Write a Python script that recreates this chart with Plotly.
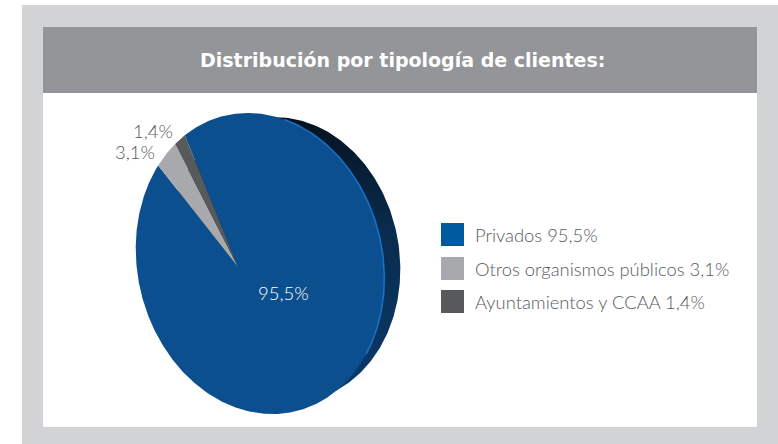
import numpy as np
import plotly.graph_objects as go

categories = ["Privados", "Otros organismos públicos", "Ayuntamientos y CCAA"]
values = [95.5, 3.1, 1.4]
value_labels = ["95,5%", "3,1%", "1,4%"]
colors = ["#0b4f8e", "#a7a9ac", "#58595b"]
legend_colors = ["#005a9f", "#a7a9ac", "#58595b"]
title = "Distribución por tipología de clientes:"
FONT = "Lato"
TEXT = "#58595b"

# pie geometry, page pixels (style only)
C = np.array([260.0, 263.5]); A_, B_ = 152.0, 122.5; PHI = np.radians(13.5)
APEX = np.array([238.0, 267.0])
START = 22.0  # degrees left of vertical where the first small slice ends


def frame(phi):
    return np.array([-np.sin(phi), -np.cos(phi)]), np.array([np.cos(phi), -np.sin(phi)])


def ellipse(c, a, b, phi, t):
    u, v = frame(phi)
    return (c[0] + a*np.cos(t)*u[0] + b*np.sin(t)*v[0],
            c[1] + a*np.cos(t)*u[1] + b*np.sin(t)*v[1])


def wedge(a0, a1):
    """Slice between clockwise angles (deg from vertical) seen from the apex."""
    u, v = frame(PHI)
    th = np.radians(np.linspace(a0, a1, max(3, int(abs(a1-a0)*2))))
    dx, dy = np.sin(th), -np.cos(th)
    p = APEX - C
    pu, pv = (p @ u)/A_, (p @ v)/B_
    du, dv = (dx*u[0]+dy*u[1])/A_, (dx*v[0]+dy*v[1])/B_
    qa = du**2+dv**2; qb = 2*(pu*du+pv*dv); qc = pu**2+pv**2-1
    r = (-qb+np.sqrt(qb**2-4*qa*qc))/(2*qa)
    return ([APEX[0], *(APEX[0]+r*dx), APEX[0]], [APEX[1], *(APEX[1]+r*dy), APEX[1]])


fig = go.Figure()
t = np.linspace(0, 2*np.pi, 361)

# extruded back of the pie
bx, by = ellipse((283.5, 259.5), 143.0, 116.0, np.radians(9.5), t)
fig.add_trace(go.Scatter(x=bx, y=by, mode="lines", fill="toself", line=dict(width=0),
                         fillgradient=dict(type="vertical",
                                           colorscale=[[0, "#0a3a6c"], [0.6, "#0a2c4e"], [1, "#04121f"]]),
                         hoverinfo="skip"))

# slices, angles taken from the values
deg = [v/sum(values)*360 for v in values]
a_dark = (-START-deg[2], -START)
a_grey = (a_dark[0]-deg[1], a_dark[0])
a_blue = (-START, -START+deg[0])
for (a0, a1), col, name in zip([a_blue, a_grey, a_dark], colors, categories):
    x, y = wedge(a0, a1)
    fig.add_trace(go.Scatter(x=x, y=y, mode="lines", fill="toself", fillcolor=col,
                             line=dict(width=0), name=name, hoverinfo="name"))

# bright rim on the right edge
tr = np.radians(np.linspace(28, 138, 110))
rx, ry = ellipse(C, A_, B_, PHI, tr)
fig.add_trace(go.Scatter(x=rx, y=ry, mode="lines", line=dict(color="#1a6fc9", width=1.6), hoverinfo="skip"))

# legend swatches
leg_x = [452.5]*3
leg_y = [234.5, 268.5, 301.5]
fig.add_trace(go.Scatter(x=leg_x, y=leg_y, mode="markers",
                         marker=dict(symbol="square", size=23, color=legend_colors, line=dict(width=0)),
                         hoverinfo="skip"))

ann = [
    dict(x=402.5, y=60, text=f"<b>{title}</b>", font=dict(size=19, color="white", family="DejaVu Sans"), xanchor="center"),
    dict(x=283.5, y=293, text=value_labels[0], font=dict(size=18.5, color="white", family=FONT, weight=300), xanchor="center"),
    dict(x=157, y=152, text=value_labels[1], font=dict(size=18.5, color=TEXT, family=FONT, weight=300), xanchor="right"),
    dict(x=175, y=131, text=value_labels[2], font=dict(size=18.5, color=TEXT, family=FONT, weight=300), xanchor="right"),
]
for c, v, vl, y in zip(categories, values, value_labels, leg_y):
    ann.append(dict(x=473, y=y, text=f"{c} {vl}", font=dict(size=18.4, color=TEXT, family=FONT, weight=300), xanchor="left"))

shapes = [
    dict(type="rect", x0=22, x1=778, y0=5, y1=444, fillcolor="#d1d3d4", line=dict(width=0), layer="below"),
    dict(type="rect", x0=43, x1=757, y0=27, y1=427, fillcolor="#ffffff", line=dict(width=0), layer="below"),
    dict(type="rect", x0=43, x1=757, y0=27, y1=93, fillcolor="#939598", line=dict(width=0), layer="below"),
]
for a in ann:
    a.update(showarrow=False, xref="x", yref="y", yanchor="middle")

fig.update_layout(width=778, height=444, margin=dict(l=0, r=0, t=0, b=0), showlegend=False,
                  paper_bgcolor="white", plot_bgcolor="rgba(0,0,0,0)",
                  xaxis=dict(range=[0, 778], visible=False, fixedrange=True),
                  yaxis=dict(range=[444, 0], visible=False, fixedrange=True),
                  shapes=shapes, annotations=ann)
fig.write_html("out.html", config=dict(displayModeBar=False),
               post_script="document.body.style.margin='0';document.body.style.overflow='hidden';")
